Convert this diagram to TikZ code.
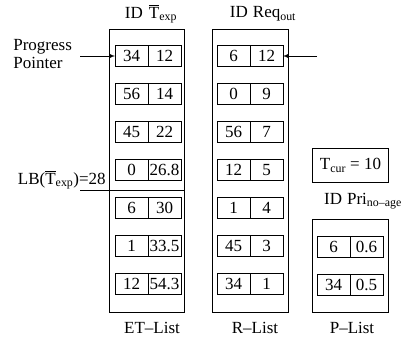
\documentclass[tikz,border=0pt]{standalone}
\usepackage{fontspec}
\setmainfont{Liberation Serif}
\usetikzlibrary{positioning}

\newcommand{\Tbar}{$\overline{\mbox{T}}$}

\tikzset{
	cell/.style={draw, minimum width=33pt, minimum height=21pt, inner sep=0pt, outer sep=0pt},
	listbox/.style={draw, inner sep=0pt, outer sep=0pt},
	lbl/.style={inner sep=0pt},
}

\begin{document}
\begin{tikzpicture}[x=1pt, y=-1pt, line width=0.7pt, font=\fontsize{17}{18}\selectfont]
	\useasboundingbox (0,0) rectangle (408,338);
	
	% List boxes
	\node[listbox, minimum width=75pt, minimum height=283pt] (etbox) at (146.5,170.5) {};
	\node[listbox, minimum width=76pt, minimum height=283pt] (rlbox) at (250,170.5) {};
	\node[listbox, minimum width=76pt, minimum height=93pt] (plbox) at (350.5,265.5) {};
	
	% ET-List
	\foreach \id/\val [count=\i] in {34/12, 56/14, 45/22, 0/26.8, 6/30, 1/33.5, 12/54.3} {
		\node[cell] (et\i id) at (131.5,{18+38*\i}) {\id};
		\node[cell, right=0pt of et\i id] (et\i val) {\val};
	}
	
	% R-List
	\foreach \id/\val [count=\i] in {6/12, 0/9, 56/7, 12/5, 1/4, 45/3, 34/1} {
		\node[cell] (rl\i id) at (233.5,{18+38*\i}) {\id};
		\node[cell, right=0pt of rl\i id] (rl\i val) {\val};
	}
	
	% P-List
	\foreach \id/\val [count=\i] in {6/0.6, 34/0.5} {
		\node[cell] (pl\i id) at (333.5,{19+38*(\i+5)}) {\id};
		\node[cell, right=0pt of pl\i id] (pl\i val) {\val};
	}
	
	% Headers
	\node[lbl] (ethead) at (151,14) {ID\hspace{6pt}\Tbar\textsubscript{exp}};
	\node[lbl] (rlhead) at (263,14) {ID\hspace{5pt}Req\textsubscript{out}};
	\node[lbl] (plhead) at (363,201) {ID\hspace{5pt}Pri\textsubscript{no--age}};
	
	% Current time
	\node[draw, minimum width=76pt, minimum height=34pt, inner sep=0pt] (tcur) at (350.5,165.5) {T\textsubscript{cur} = 10};
	
	% List names
	\node[lbl] (etname) at (152,328) {ET--List};
	\node[lbl] (rlname) at (255,328) {R--List};
	\node[lbl] (plname) at (352,328) {P--List};
	
	% Pointers
	\node[lbl, anchor=west, align=left] (pp) at (13,54) {Progress\\Pointer};
	\draw[-latex] ([xshift=8pt]pp.east |- et1id.west) -- (et1id.west);
	\coordinate (rltail) at (317,56);
	\draw[-latex] (rltail) -- (rl1val.east);
	
	% Lower bound
	\node[lbl, anchor=base east] (lb) at (106,184) {LB(\Tbar\textsubscript{exp})=28};
	\coordinate (lbtail) at (80,190);
	\draw (lbtail) -- (lbtail -| etbox.east);
	
\end{tikzpicture}
\end{document}
